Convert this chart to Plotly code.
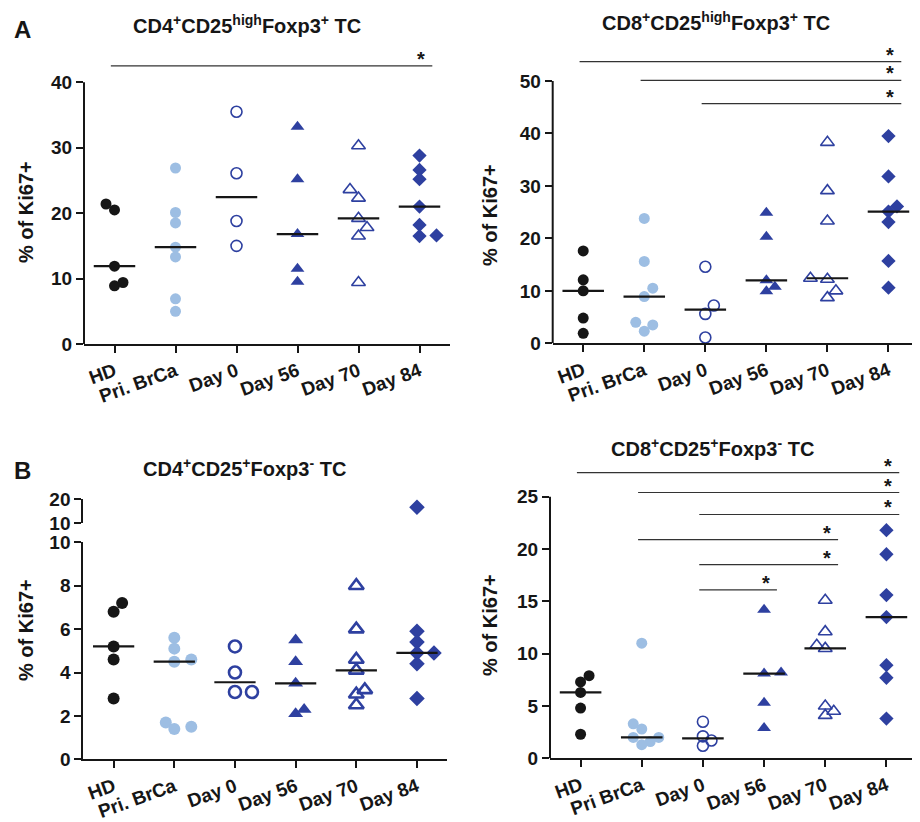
import numpy as np
import plotly.graph_objects as go

# ---------------- DATA ----------------
groups_a = ["HD", "Pri. BrCa", "Day 0", "Day 56", "Day 70", "Day 84"]
groups_b2 = ["HD", "Pri BrCa", "Day 0", "Day 56", "Day 70", "Day 84"]

# A (left): CD4+CD25high Foxp3+ TC, % of Ki67+
a1_hd = [20.5, 21.4, 11.9, 8.9, 9.4]
a1_pri = [26.9, 20.1, 18.5, 14.8, 13.3, 6.9, 5.0]
a1_d0 = [35.5, 26.1, 18.8, 15.0]
a1_d56 = [33.2, 25.2, 16.8, 11.5, 9.5]
a1_d70 = [30.3, 23.6, 22.3, 19.2, 17.8, 16.5, 9.4]
a1_d84 = [28.8, 26.6, 25.2, 21.0, 18.2, 16.5, 16.6]
a1_sig = [("HD", "Day 84")]

# A (right): CD8+CD25high Foxp3+ TC
a2_hd = [17.6, 12.1, 10.0, 4.8, 1.9]
a2_pri = [23.8, 15.6, 10.5, 8.9, 4.0, 3.5, 2.3]
a2_d0 = [14.6, 7.2, 5.6, 1.1]
a2_d56 = [24.9, 20.3, 12.0, 10.8, 9.9]
a2_d70 = [38.3, 29.1, 23.3, 12.4, 12.2, 10.0, 8.7]
a2_d84 = [39.5, 31.8, 26.1, 25.1, 23.1, 15.7, 10.6]
a2_sig = [("HD", "Day 84"), ("Pri. BrCa", "Day 84"), ("Day 0", "Day 84")]

# B (left): CD4+CD25+ Foxp3- TC (broken axis)
b1_hd = [7.2, 6.8, 5.2, 4.6, 2.8]
b1_pri = [5.6, 5.1, 4.6, 4.5, 1.7, 1.4, 1.5]
b1_d0 = [5.2, 4.0, 3.1, 3.1]
b1_d56 = [5.5, 4.5, 3.5, 2.3, 2.1]
b1_d70 = [8.0, 6.0, 4.6, 4.1, 3.2, 3.0, 2.5]
b1_d84 = [16.7, 5.9, 5.4, 4.9, 4.9, 4.4, 2.8]

# B (right): CD8+CD25+ Foxp3- TC
b2_hd = [7.9, 7.3, 6.3, 4.8, 2.3]
b2_pri = [11.0, 3.3, 2.8, 2.0, 2.0, 1.6, 1.3]
b2_d0 = [3.5, 2.1, 1.7, 1.2]
b2_d56 = [14.2, 8.1, 8.2, 5.3, 2.9]
b2_d70 = [15.1, 12.1, 10.8, 10.5, 5.0, 4.5, 4.1]
b2_d84 = [21.8, 19.5, 15.6, 13.5, 8.9, 7.7, 3.8]
b2_sig = [("HD", "Day 84"), ("Pri BrCa", "Day 84"), ("Day 0", "Day 84"),
          ("Pri BrCa", "Day 70"), ("Day 0", "Day 70"), ("Day 0", "Day 56")]

# ---------------- STYLE / LAYOUT ----------------
PAGE_OFF = 8          # default page body margin
W, H = 920 - PAGE_OFF, 822 - PAGE_OFF
FONT = "Liberation Sans, Arial, Helvetica, sans-serif"
INK = "#161616"
LIGHT = "#9DBEE3"
DARK = "#2E40A0"
styles = [
    dict(symbol="circle", color=INK, size=11),
    dict(symbol="circle", color=LIGHT, size=11),
    dict(symbol="circle-open", color=DARK, size=11),
    dict(symbol="triangle-up", color=DARK, size=12),
    dict(symbol="triangle-up-open", color=DARK, size=12),
    dict(symbol="diamond", color=DARK, size=11),
]
TICK_SIZE = 19
XTICK_SIZE = 19
TITLE_SIZE = 20
YTITLE_SIZE = 20


def px2x(px):
    return (px - PAGE_OFF) / W


def px2y(py):
    return 1 - (py - PAGE_OFF) / H


def swarm(vals, ppu, ppc, step=8.5, thr=9.0):
    vals = np.asarray(vals, float)
    order = np.argsort(vals, kind="stable")
    placed = []
    offs = np.zeros(len(vals))
    side = 1
    for i in order:
        y = vals[i] * ppu
        def free(s):
            return all(np.hypot((s - ps) * step, y - py) >= thr for ps, py in placed)
        chosen = 0
        for s in [0, side, -side, 2 * side, -2 * side]:
            if free(s):
                chosen = s
                break
        if chosen != 0:
            side = -1 if chosen > 0 else 1
        placed.append((chosen, y))
        offs[i] = chosen * step / ppc
    return offs


fig = go.Figure()

tickfont = dict(family=FONT, size=TICK_SIZE, color=INK, weight="bold")
xtickfont = dict(family=FONT, size=XTICK_SIZE, color=INK, weight="bold")


def text_ann(x_px, y_px, text, size, angle=0):
    fig.add_annotation(x=px2x(x_px), y=px2y(y_px), xref="paper", yref="paper",
                       text=text, showarrow=False, textangle=angle,
                       xanchor="center", yanchor="middle",
                       font=dict(family=FONT, size=size, color=INK))


def add_panel(idx, cats, data, xpx, ybot, tickpx, tickmax, dtick, rtop, sig, sig_y,
              open_lw, title, title_xy, ytitle_xy):
    xa = "x" if idx == 1 else f"x{idx}"
    ya = "y" if idx == 1 else f"y{idx}"
    ppu = (ybot - tickpx) / tickmax
    top_px = ybot - rtop * ppu
    ppc = (xpx[1] - xpx[0]) / 6.0
    for g, (vals, st) in enumerate(zip(data, styles)):
        offs = swarm(vals, ppu, ppc)
        fig.add_trace(go.Scatter(
            x=g + offs, y=vals, mode="markers", xaxis=xa, yaxis=ya, cliponaxis=False,
            marker=dict(symbol=st["symbol"], color=st["color"], size=st["size"],
                        line=dict(width=open_lw if "open" in st["symbol"] else 0,
                                  color=st["color"])),
            showlegend=False, hoverinfo="y"))
    mx, my = [], []
    for g, vals in enumerate(data):
        m = float(np.median(vals))
        mx += [g - 0.34, g + 0.34, None]
        my += [m, m, None]
    fig.add_trace(go.Scatter(x=mx, y=my, mode="lines", xaxis=xa, yaxis=ya,
                             line=dict(color=INK, width=2.2), showlegend=False,
                             hoverinfo="skip", cliponaxis=False))
    xkey = "xaxis" if idx == 1 else f"xaxis{idx}"
    ykey = "yaxis" if idx == 1 else f"yaxis{idx}"
    fig.update_layout(**{
        xkey: dict(domain=[px2x(xpx[0]), px2x(xpx[1])], anchor=ya, range=[-0.5, 5.5],
                   tickvals=list(range(6)), ticktext=cats, tickangle=-20,
                   showline=True, linewidth=2, linecolor=INK, ticks="outside",
                   ticklen=7, tickwidth=2, tickcolor=INK, showgrid=False,
                   zeroline=False, tickfont=xtickfont, automargin=False),
        ykey: dict(domain=[px2y(ybot), px2y(top_px)], anchor=xa, range=[0, rtop],
                   tickvals=list(np.arange(0, tickmax + 0.01, dtick)),
                   showline=False, ticks="outside", ticklen=7, tickwidth=2,
                   tickcolor=INK, showgrid=False, zeroline=False, tickfont=tickfont,
                   automargin=False),
    })
    fig.add_shape(type="line", xref="paper", yref=ya, x0=px2x(xpx[0]), x1=px2x(xpx[0]),
                  y0=0, y1=tickmax, line=dict(color=INK, width=2))
    for (a, b), yy in zip(sig, sig_y):
        ia, ib = cats.index(a), cats.index(b)
        fig.add_shape(type="line", xref=xa, yref=ya, x0=ia - 0.06, x1=ib + 0.21,
                      y0=yy, y1=yy, line=dict(color="#333333", width=1.2))
        fig.add_annotation(x=ib + 0.03, y=yy, xref=xa, yref=ya, text="<b>*</b>",
                           showarrow=False, xanchor="center", yanchor="middle", yshift=7,
                           font=dict(family=FONT, size=20, color=INK))
    text_ann(title_xy[0], title_xy[1], title, TITLE_SIZE)
    text_ann(ytitle_xy[0], ytitle_xy[1], "<b>% of Ki67+</b>", YTITLE_SIZE, -90)


add_panel(1, groups_a, [a1_hd, a1_pri, a1_d0, a1_d56, a1_d70, a1_d84],
          (84, 450), 344, 82.3, 40, 10, 44, a1_sig, [42.5], 1.6,
          "<b>CD4<sup>+</sup>CD25<sup>high</sup>Foxp3<sup>+</sup> TC</b>", (247, 25), (26, 212))
add_panel(2, groups_a, [a2_hd, a2_pri, a2_d0, a2_d56, a2_d70, a2_d84],
          (552.7, 919), 343.3, 81, 50, 10, 56, a2_sig, [53.7, 50.1, 45.7], 1.6,
          "<b>CD8<sup>+</sup>CD25<sup>high</sup>Foxp3<sup>+</sup> TC</b>", (716, 22), (490, 215))
add_panel(5, groups_b2, [b2_hd, b2_pri, b2_d0, b2_d56, b2_d70, b2_d84],
          (550, 917), 758.3, 496.7, 25, 5, 28.5, b2_sig,
          [27.3, 25.4, 23.3, 20.9, 18.5, 16.1], 1.6,
          "<b>CD8<sup>+</sup>CD25<sup>+</sup>Foxp3<sup>-</sup> TC</b>", (712, 447), (490, 625))

# ---- B (left) with broken y axis ----
b1_data = [b1_hd, b1_pri, b1_d0, b1_d56, b1_d70, b1_d84]
b1_x = (83.3, 447.3)
b1_low = (759.3, 542.3)   # px of 0 and 10
b1_up = (523.3, 499.3)    # px of 10 and 20
ppu_lo = (b1_low[0] - b1_low[1]) / 10
ppc_b1 = (b1_x[1] - b1_x[0]) / 6
for g, (vals, st) in enumerate(zip(b1_data, styles)):
    offs = swarm(vals, ppu_lo, ppc_b1)
    vals = np.asarray(vals)
    lo = vals <= 10
    for mask, ya in [(lo, "y3"), (~lo, "y4")]:
        if mask.any():
            fig.add_trace(go.Scatter(
                x=g + offs[mask], y=vals[mask], mode="markers", xaxis="x3", yaxis=ya,
                cliponaxis=False,
                marker=dict(symbol=st["symbol"], color=st["color"], size=st["size"] + 1,
                            line=dict(width=2.6 if "open" in st["symbol"] else 0,
                                      color=st["color"])),
                showlegend=False, hoverinfo="y"))
mx, my = [], []
for g, vals in enumerate(b1_data):
    m = float(np.median(vals))
    mx += [g - 0.34, g + 0.34, None]
    my += [m, m, None]
fig.add_trace(go.Scatter(x=mx, y=my, mode="lines", xaxis="x3", yaxis="y3",
                         line=dict(color=INK, width=2.2), showlegend=False,
                         hoverinfo="skip", cliponaxis=False))
fig.update_layout(
    xaxis3=dict(domain=[px2x(b1_x[0]), px2x(b1_x[1])], anchor="y3", range=[-0.5, 5.5],
                tickvals=list(range(6)), ticktext=groups_a, tickangle=-20,
                showline=True, linewidth=2, linecolor=INK, ticks="outside",
                ticklen=7, tickwidth=2, tickcolor=INK, showgrid=False, zeroline=False,
                tickfont=xtickfont, automargin=False),
    yaxis3=dict(domain=[px2y(b1_low[0]), px2y(b1_low[1])], anchor="x3", range=[0, 10],
                tickvals=[0, 2, 4, 6, 8, 10], showline=True, linewidth=2, linecolor=INK,
                ticks="outside", ticklen=7, tickwidth=2, tickcolor=INK, showgrid=False,
                zeroline=False, tickfont=tickfont, automargin=False),
    yaxis4=dict(domain=[px2y(b1_up[0]), px2y(b1_up[1])], anchor="x3", range=[10, 20],
                tickvals=[10, 20], showline=True, linewidth=2, linecolor=INK,
                ticks="outside", ticklen=7, tickwidth=2, tickcolor=INK, showgrid=False,
                zeroline=False, tickfont=tickfont, automargin=False),
)
text_ann(244, 467, "<b>CD4<sup>+</sup>CD25<sup>+</sup>Foxp3<sup>-</sup> TC</b>", TITLE_SIZE)
text_ann(26, 630, "<b>% of Ki67+</b>", YTITLE_SIZE, -90)

# panel letters
text_ann(22, 30, "<b>A</b>", 24)
text_ann(22, 470, "<b>B</b>", 24)

fig.update_layout(width=W, height=H, template="none",
                  margin=dict(l=0, r=0, t=0, b=0, pad=0, autoexpand=False),
                  paper_bgcolor="white", plot_bgcolor="white", showlegend=False)

fig.write_html("out.html")
